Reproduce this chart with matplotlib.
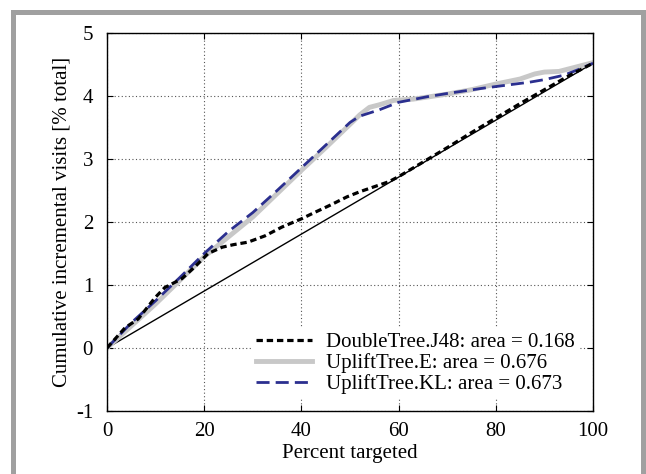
import matplotlib
matplotlib.use("Agg")
import matplotlib.pyplot as plt
from matplotlib.patches import Rectangle

# Cumulative incremental visits (% of total) vs. percent of population targeted
pct_j48 = [0, 3.7, 6.4, 9.9, 11.9, 15.4, 18.1, 20.8, 23.7, 26, 29, 32.5, 36, 40,
           42.4, 46, 49.4, 52, 55, 58, 60, 65, 70, 75, 80, 85, 90, 95, 100]
visits_j48 = [0, 0.32, 0.46, 0.80, 0.96, 1.10, 1.29, 1.50, 1.60, 1.64, 1.68, 1.78,
              1.92, 2.05, 2.14, 2.27, 2.40, 2.48, 2.56, 2.64, 2.72, 2.95, 3.18,
              3.42, 3.65, 3.88, 4.10, 4.32, 4.52]

pct_e = [0, 10, 20, 30, 40, 45, 50, 52, 54, 56, 59, 63, 70, 75, 80, 85, 88, 90,
         93, 96, 100]
visits_e = [0, 0.70, 1.45, 2.08, 2.82, 3.18, 3.55, 3.70, 3.82, 3.86, 3.93, 3.95,
            4.03, 4.10, 4.19, 4.27, 4.35, 4.38, 4.39, 4.45, 4.53]

pct_kl = [0, 5, 10, 15, 20, 25, 30, 35, 40, 45, 50, 52, 56, 60, 66, 70, 77, 80,
          87, 90, 94, 97, 100]
visits_kl = [0, 0.40, 0.75, 1.12, 1.50, 1.85, 2.15, 2.50, 2.86, 3.22, 3.58, 3.68,
             3.78, 3.90, 3.99, 4.04, 4.12, 4.15, 4.22, 4.26, 4.33, 4.42, 4.52]

# random targeting baseline
pct_rand = [0, 100]
visits_rand = [0, 4.52]

labels = ["DoubleTree.J48: area = 0.168",
          "UpliftTree.E: area = 0.676",
          "UpliftTree.KL: area = 0.673"]

plt.rcParams["font.family"] = ["Liberation Serif", "DejaVu Serif"]
plt.rcParams["font.size"] = 15
plt.rcParams["axes.unicode_minus"] = False

fig = plt.figure(figsize=(6.46, 4.74), dpi=100)
fig.patch.set_facecolor("white")

# grey frame round the figure
fig.patches.append(Rectangle((13.5 / 646, -0.1), (643 - 13.5) / 646, 1.1 - 12.5 / 474,
                             transform=fig.transFigure, fill=False,
                             edgecolor="#a0a0a0", linewidth=3.6))

ax = fig.add_axes([107 / 646, 1 - 411 / 474, 486 / 646, 378 / 474])

ax.plot(pct_rand, visits_rand, color="black", linewidth=1.0)
ax.plot(pct_e, visits_e, color="#c8c8c8", linewidth=3.5, label=labels[1])
ax.plot(pct_kl, visits_kl, color="#2b2f8f", linewidth=2.0, dashes=(4.7, 2.2),
        label=labels[2])
ax.plot(pct_j48, visits_j48, color="black", linewidth=2.3, dashes=(2.0, 1.2),
        label=labels[0])

ax.set_xlim(0, 100)
ax.set_ylim(-1, 5)
ax.set_xticks([0, 20, 40, 60, 80, 100])
ax.set_yticks([-1, 0, 1, 2, 3, 4, 5])
ax.grid(True, linestyle=(0, (1, 2.2)), color="#555555", linewidth=0.8)
ax.tick_params(direction="in", length=4, top=True, right=True, labelsize=15)
ax.tick_params(axis="x", pad=8)
ax.tick_params(axis="y", pad=10)
for s in ax.spines.values():
    s.set_linewidth(1.0)

ax.set_xlabel("Percent targeted", fontsize=15, labelpad=2)
ax.set_ylabel("Cumulative incremental visits [% total]", fontsize=15, labelpad=3)

handles, labs = ax.get_legend_handles_labels()
order = [2, 0, 1]
leg = ax.legend([handles[i] for i in order], [labs[i] for i in order],
                loc="lower right", bbox_to_anchor=(0.97, 0.034), borderaxespad=0,
                fontsize=15, frameon=True, fancybox=False, edgecolor="none",
                facecolor="white", framealpha=1, handlelength=2.65,
                handletextpad=0.67, labelspacing=0.05, borderpad=0.2)

fig.savefig("out.png", dpi=100)
